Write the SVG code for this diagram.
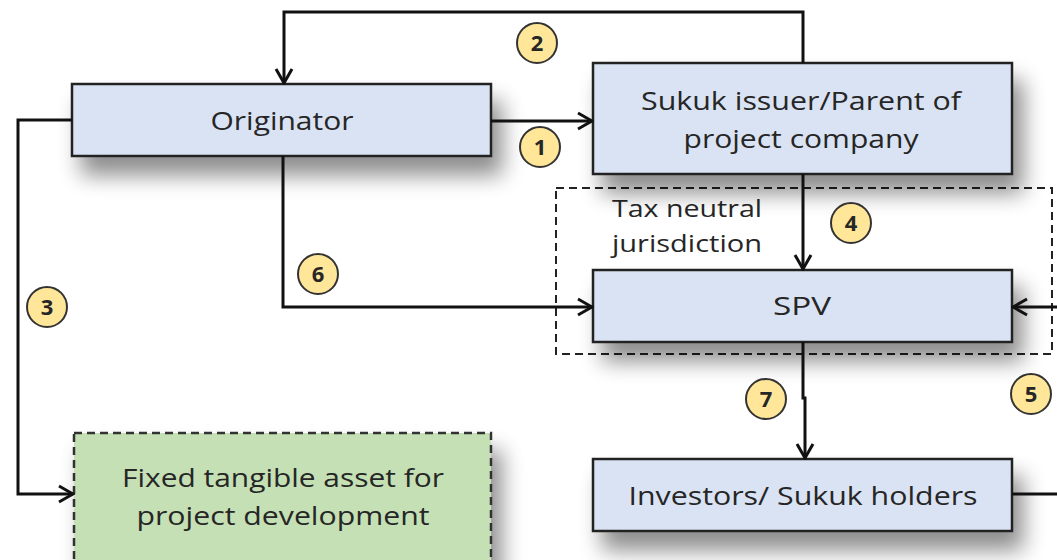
<svg xmlns="http://www.w3.org/2000/svg" width="1057" height="560" viewBox="0 0 1057 560">
<defs>
<filter id="sh" x="-20%" y="-30%" width="150%" height="200%">
<feGaussianBlur in="SourceAlpha" stdDeviation="11"/>
<feOffset dx="10" dy="18" result="b"/>
<feComponentTransfer><feFuncA type="linear" slope="0.45"/></feComponentTransfer>
<feMerge><feMergeNode/><feMergeNode in="SourceGraphic"/></feMerge>
</filter>
<marker id="ah" viewBox="0 0 20 20" refX="18" refY="10" markerWidth="20" markerHeight="20" markerUnits="userSpaceOnUse" orient="auto">
<path d="M4,2 L18,10 L4,18" fill="none" stroke="#111" stroke-width="3"/>
</marker>
</defs>
<style>
.box{fill:#dae3f3;stroke:#222;stroke-width:2.5}
.green{fill:#c5e0b4;stroke:#333;stroke-width:2.5;stroke-dasharray:8 5}
.zone{fill:none;stroke:#222;stroke-width:2;stroke-dasharray:8 5}
.t{font-family:"Open Sans","Noto Sans",sans-serif;font-size:25px;fill:#262626;text-anchor:middle}
.tl{font-family:"Open Sans","Noto Sans",sans-serif;font-size:23px;fill:#262626}
.c{fill:#ffe699;stroke:#333;stroke-width:2}
.n{font-family:"Open Sans","Noto Sans",sans-serif;font-size:22px;font-weight:bold;fill:#262626;text-anchor:middle}
.ln{fill:none;stroke:#111;stroke-width:3}
</style>
<rect x="0" y="0" width="1057" height="560" fill="#fff"/>
<g id="zone-tax">
<rect class="zone" x="556" y="188" width="496" height="166"/>
<text class="tl" x="612" y="217" textLength="150" lengthAdjust="spacingAndGlyphs">Tax neutral</text>
<text class="tl" x="612" y="252" textLength="150" lengthAdjust="spacingAndGlyphs">jurisdiction</text>
</g>
<g id="node-originator">
<rect class="box" x="72" y="84" width="419" height="72" filter="url(#sh)"/>
<text class="t" x="282" y="130" textLength="143" lengthAdjust="spacingAndGlyphs">Originator</text>
</g>
<g id="node-sukuk">
<rect class="box" x="593" y="63" width="419" height="111" filter="url(#sh)"/>
<text class="t" x="801" y="110" textLength="320" lengthAdjust="spacingAndGlyphs">Sukuk issuer/Parent of</text>
<text class="t" x="801" y="148" textLength="235" lengthAdjust="spacingAndGlyphs">project company</text>
</g>
<g id="node-spv">
<rect class="box" x="593" y="270" width="419" height="72" filter="url(#sh)"/>
<text class="t" x="802" y="315" textLength="58" lengthAdjust="spacingAndGlyphs">SPV</text>
</g>
<g id="node-investors">
<rect class="box" x="593" y="459" width="419" height="72" filter="url(#sh)"/>
<text class="t" x="803" y="505" textLength="349" lengthAdjust="spacingAndGlyphs">Investors/ Sukuk holders</text>
</g>
<g id="node-asset">
<rect class="green" x="74" y="433" width="417" height="140" filter="url(#sh)"/>
<text class="t" x="283" y="487" textLength="322" lengthAdjust="spacingAndGlyphs">Fixed tangible asset for</text>
<text class="t" x="283" y="525" textLength="293" lengthAdjust="spacingAndGlyphs">project development</text>
</g>
<g id="connectors">
<path class="ln" d="M803,63 V12 H284 V83" marker-end="url(#ah)"/>
<path class="ln" d="M491,121 H592" marker-end="url(#ah)"/>
<path class="ln" d="M72,120 H18 V494 H73" marker-end="url(#ah)"/>
<path class="ln" d="M283,156 V307 H592" marker-end="url(#ah)"/>
<path class="ln" d="M803,174 V269" marker-end="url(#ah)"/>
<path class="ln" d="M1012,494 H1060 V307 H1013" marker-end="url(#ah)"/>
<path class="ln" d="M803,342 V398 H805 V458" marker-end="url(#ah)"/>
</g>
<g id="labels">
<circle class="c" cx="537" cy="43" r="20"/><text class="n" x="537" y="51">2</text>
<circle class="c" cx="540" cy="147" r="20"/><text class="n" x="540" y="155">1</text>
<circle class="c" cx="47" cy="307" r="20"/><text class="n" x="47" y="315">3</text>
<circle class="c" cx="318" cy="274" r="20"/><text class="n" x="318" y="282">6</text>
<circle class="c" cx="851" cy="223" r="20"/><text class="n" x="851" y="231">4</text>
<circle class="c" cx="766" cy="399" r="20"/><text class="n" x="766" y="407">7</text>
<circle class="c" cx="1031" cy="394" r="20"/><text class="n" x="1031" y="402">5</text>
</g>
</svg>
